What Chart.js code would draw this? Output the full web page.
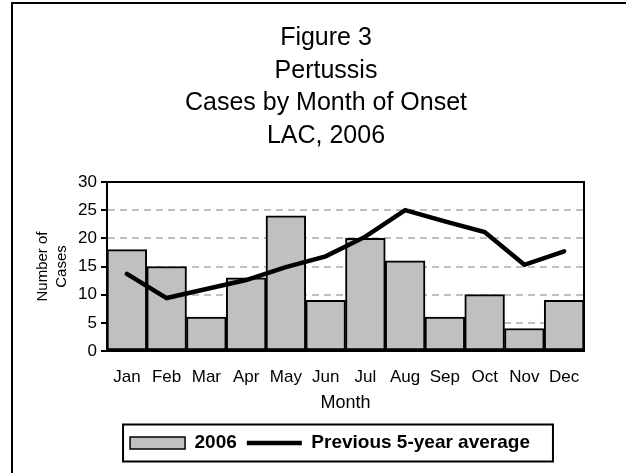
<!DOCTYPE html>
<html>
<head>
<meta charset="utf-8">
<script src="https://cdn.jsdelivr.net/npm/chart.js@4/dist/chart.umd.min.js"></script>
<style>
  html, body { margin: 0; padding: 0; background: #fff; }
  #wrap { position: relative; width: 626px; height: 473px; }
</style>
</head>
<body>
<div id="wrap"><canvas id="pertussisChart"></canvas></div>
<script>
const months = ['Jan', 'Feb', 'Mar', 'Apr', 'May', 'Jun', 'Jul', 'Aug', 'Sep', 'Oct', 'Nov', 'Dec'];
const cases2006 = [18, 15, 6, 13, 24, 9, 20, 16, 6, 10, 4, 9];
const prevAverage = [13.7, 9.4, 11.0, 12.6, 14.9, 16.8, 20.3, 25.0, 23.0, 21.1, 15.3, 17.7];
const titleLines = ['Figure 3', 'Pertussis', 'Cases by Month of Onset', 'LAC, 2006'];
const yTicks = [0, 5, 10, 15, 20, 25, 30];

const FONT = "Arial, 'Liberation Sans', sans-serif";

// outer frame, plot border, box around legend, small nudges
const framePlugin = {
    id: 'frame',
    afterLayout(chart) {
        chart.titleBlock.left += 34;
        chart.titleBlock.right += 34;
        chart.legend.left += 38;
        chart.legend.right += 38;
    },
    beforeDraw(chart) {
        const c = chart.ctx;
        c.save();
        c.strokeStyle = '#000';
        c.lineWidth = 2;
        c.beginPath();
        c.moveTo(12, 480);
        c.lineTo(12, 3);
        c.lineTo(630, 3);
        c.stroke();
        c.restore();
    },
    afterDatasetsDraw(chart) {
        const a = chart.chartArea;
        const c = chart.ctx;
        c.save();
        c.strokeStyle = '#000';
        c.lineWidth = 2;
        c.strokeRect(a.left, a.top, a.right - a.left, a.bottom - a.top);
        c.restore();
    },
    afterDraw(chart) {
        const boxes = chart.legend.legendHitBoxes;
        if (!boxes || !boxes.length) return;
        let minX = Infinity, maxX = -Infinity, minY = Infinity, maxY = -Infinity;
        boxes.forEach(b => {
            minX = Math.min(minX, b.left);
            maxX = Math.max(maxX, b.left + b.width);
            minY = Math.min(minY, b.top);
            maxY = Math.max(maxY, b.top + b.height);
        });
        const c = chart.ctx;
        c.save();
        c.strokeStyle = '#000';
        c.lineWidth = 2;
        c.strokeRect(minX - 7, minY - 9, (maxX - minX) + 30, (maxY - minY) + 18);
        c.restore();
    }
};

const ctx = document.getElementById('pertussisChart').getContext('2d');

new Chart(ctx, {
    data: {
        labels: months,
        datasets: [
            {
                type: 'line',
                label: 'Previous 5-year average',
                data: prevAverage,
                borderColor: '#000',
                borderWidth: 4.5,
                borderCapStyle: 'round',
                pointRadius: 0,
                tension: 0,
                fill: false,
                order: 0
            },
            {
                type: 'bar',
                label: '2006',
                data: cases2006,
                backgroundColor: '#c0c0c0',
                borderColor: '#000',
                borderWidth: 2,
                borderSkipped: false,
                categoryPercentage: 1.0,
                barPercentage: 1.0,
                order: 1
            }
        ]
    },
    plugins: [framePlugin],
    options: {
        responsive: true,
        maintainAspectRatio: false,
        animation: false,
        layout: {
            padding: { left: 0, right: 42, top: 0, bottom: 10.5 }
        },
        scales: {
            x: {
                grid: { display: false },
                border: { display: true, color: '#000', width: 2 },
                ticks: { color: '#000', padding: 8, font: { size: 17, family: FONT } },
                title: {
                    display: true,
                    text: 'Month',
                    color: '#000',
                    font: { size: 18, family: FONT },
                    padding: { top: 0, bottom: 10 }
                },
                afterFit: (scale) => { scale.height = 72.5; }
            },
            y: {
                min: 0,
                max: 30,
                afterBuildTicks: (scale) => { scale.ticks = yTicks.map(v => ({ value: v })); },
                grid: {
                    color: (c) => (c.tick && (c.tick.value === 0 || c.tick.value === 30)) ? 'rgba(0,0,0,0)' : '#c0c0c0',
                    lineWidth: 2,
                    tickLength: 6,
                    tickColor: '#000',
                    tickWidth: 2,
                    tickBorderDash: []
                },
                border: { display: true, color: '#000', width: 2, dash: [7, 5] },
                ticks: { color: '#000', padding: 4, font: { size: 17, family: FONT } },
                title: {
                    display: true,
                    text: ['Number of', 'Cases'],
                    color: '#000',
                    font: { size: 15, family: FONT, lineHeight: 1.24 },
                    padding: { top: 33.7, bottom: 0 }
                },
                afterFit: (scale) => { scale.width = 107; }
            }
        },
        plugins: {
            title: {
                display: true,
                text: titleLines,
                color: '#000',
                font: { size: 25, weight: 'normal', family: FONT, lineHeight: 1.3 },
                padding: { top: 22.25, bottom: 29.75 }
            },
            legend: {
                position: 'bottom',
                labels: {
                    color: '#000',
                    font: { size: 19, weight: 'bold', family: FONT },
                    usePointStyle: true,
                    pointStyleWidth: 55,
                    boxHeight: 12,
                    padding: 10,
                    generateLabels: (chart) => [
                        {
                            text: '2006',
                            fillStyle: '#c0c0c0',
                            strokeStyle: '#000',
                            lineWidth: 1.5,
                            pointStyle: 'rect',
                            fontColor: '#000',
                            datasetIndex: 1
                        },
                        {
                            text: 'Previous 5-year average',
                            fillStyle: '#000',
                            strokeStyle: '#000',
                            lineWidth: 4.5,
                            pointStyle: 'line',
                            fontColor: '#000',
                            datasetIndex: 0
                        }
                    ]
                }
            },
            tooltip: { enabled: false }
        }
    }
});
</script>
</body>
</html>
